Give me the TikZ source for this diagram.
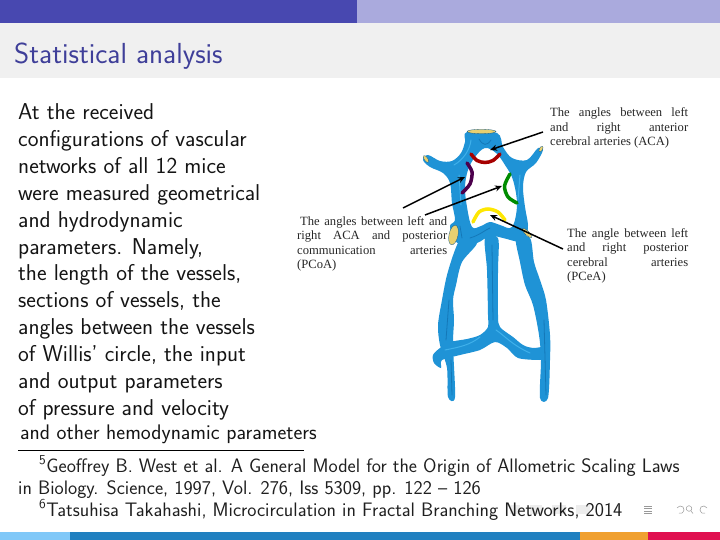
\documentclass[tikz,border=0pt]{standalone}
\usepackage{fontspec}
\setmainfont{Liberation Serif}
\setsansfont{Latin Modern Sans}
\usetikzlibrary{arrows.meta}
\definecolor{beamblue}{HTML}{4848B0}
\definecolor{beamlite}{HTML}{AAAADD}
\definecolor{titlebg}{HTML}{F0F0F0}
\definecolor{titlefg}{HTML}{3F3F99}
\definecolor{vessel}{HTML}{1F93D6}
\definecolor{vesseldk}{HTML}{1478B8}
\definecolor{vesselhi}{HTML}{3FB0EA}
\definecolor{capyel}{HTML}{E8D070}
\definecolor{foota}{HTML}{80C8F8}
\definecolor{footb}{HTML}{2080C0}
\definecolor{footc}{HTML}{F0A030}
\definecolor{footd}{HTML}{E01050}
\newcommand{\jl}[2]{\makebox[#1pt][s]{#2}}
\tikzset{
  band/.style={fill=#1,draw=none},
  bodytext/.style={font=\sffamily\fontsize{22.9}{26.9}\selectfont,anchor=north west,align=left,inner sep=0pt,text=black!92},
  foot/.style={font=\sffamily\fontsize{19.5}{22}\selectfont,anchor=north west,align=left,inner sep=0pt,text=black!88},
  caption/.style={font=\rmfamily\fontsize{12.6}{14.6}\selectfont,anchor=north west,align=left,inner sep=0pt,text=black!85},
  pointer/.style={draw=black,line width=1.5pt,-{Stealth[length=7pt,width=6pt]}},
  arcmark/.style={line width=3.5pt,line cap=round},
  wall/.style={fill=vessel,draw=none},
  rim/.style={fill=capyel,draw=vesseldk!70!black,line width=0.3pt},
  shadeline/.style={draw=vesseldk,line width=0.8pt,line cap=round},
  gloss/.style={draw=vesselhi,line width=1pt,line cap=round},
  navi/.style={fill=black!7,draw=none},
  navl/.style={draw=black!40,line width=0.5pt}
}
\begin{document}
\begin{tikzpicture}[x=1pt,y=-1pt]
\useasboundingbox (0,0) rectangle (720,540);
% bands
\fill[band=beamblue] (0,0) rectangle (357,23);
\fill[band=beamlite] (357,0) rectangle (720,23);
\fill[band=titlebg] (0,23) rectangle (720,78);
\fill[band=foota] (0,531.5) rectangle (70,540);
\fill[band=footb] (70,531.5) rectangle (580,540);
\fill[band=footc] (580,531.5) rectangle (648,540);
\fill[band=footd] (648,531.5) rectangle (720,540);
% navigation symbols
\fill[navi] (510,505) rectangle (520,514);
\fill[navi] (530,505) rectangle (542,514);
\fill[navi] (552,505) rectangle (566,514);
\fill[navi] (576,505) rectangle (590,514);
\draw[navl] (644,506) -- (652,506) (644,508.5) -- (652,508.5) (644,511) -- (652,511) (644,513.5) -- (652,513.5);
\draw[navl] plot[smooth] coordinates {(677,508)(680,506)(683,507)(684,510)(682,513)(679,513)};
\draw[navl] (689,508.5) circle (2.8) (691,511) -- (693,513.5);
\draw[navl] plot[smooth] coordinates {(707,508)(704,506)(701,507)(700,510)(702,513)(705,513)};
% title
\node[anchor=west,inner sep=0pt,text=titlefg,font=\sffamily\fontsize{29}{32}\selectfont] (title) at (14,56) {Statistical analysis};
% body
\node[bodytext] (body) at (18,103.5) {At the received\\configurations of vascular\\networks of all 12 mice\\were measured geometrical\\and hydrodynamic\\parameters. Namely,\\the length of the vessels,\\sections of vessels, the\\angles between the vessels\\of Willis' circle, the input\\and output parameters\\of pressure and velocity};
\node[anchor=west,inner sep=0pt,text=black!92,font=\sffamily\fontsize{21.1}{24}\selectfont] (bodylast) at (20,434.5) {and other hemodynamic parameters};
% footnotes
\coordinate (ruleA) at (18,450);
\coordinate (ruleB) at (304,450);
\draw[black,line width=0.6pt] (ruleA) -- (ruleB);
\node[foot] (foots) at (18,455.5) {\hspace*{21pt}\textsuperscript{5}Geoffrey B. West et al. A General Model for the Origin of Allometric Scaling Laws\\in Biology. Science, 1997, Vol. 276, Iss 5309, pp. 122 -- 126\\\hspace*{21pt}\textsuperscript{6}Tatsuhisa Takahashi, Microcirculation in Fractal Branching Networks, 2014};
% vessels: lower
\fill[wall] plot[smooth cycle,tension=0.5] coordinates {(462,238)(477,243)(462,262)(456,285)(453,300)(454,320)(453,345)(455,397)(448,397)(447,368)(440,345)(438,325)(442,300)(447,275)(455,250)};
\fill[wall] plot[smooth cycle,tension=0.5] coordinates {(485,238)(498,238)(498,270)(498,315)(500,327)(513,337)(523,345)(533,348)(548,347)(549,358)(540,360)(518,358)(507,348)(495,342)(480,350)(460,355)(442,360)(441,368)(434,363)(433,355)(440,348)(450,342)(467,339)(480,335)(488,327)(488,315)(487,270)};
\fill[wall] plot[smooth cycle,tension=0.5] coordinates {(516,238)(530,238)(534,262)(540,280)(546,300)(550,335)(550,360)(548,398)(540,398)(541,360)(539,335)(533,305)(525,285)(520,262)};
% vessels: upper ring with hole
\fill[wall,even odd rule] plot[smooth cycle,tension=0.55] coordinates {(467,132)(465,142)(461,153)(452,161)(440,161)(428,155)(423,160)(430,167)(443,173)(450,183)(452,203)(455,220)(450,226)(454,240)(462,244)(477,243)(490,236)(503,238)(520,242)(526,236)(528,225)(525,207)(523,187)(526,172)(536,163)(543,150)(538,148)(527,160)(512,158)(503,147)(497,133)}
  plot[smooth cycle,tension=0.6] coordinates {(485,148)(475,157)(468,170)(465,187)(467,207)(472,227)(481,226)(490,222)(500,225)(512,227)(517,205)(513,180)(505,165)(496,153)};
% shading details
\draw[shadeline] (479,139) .. controls (483,146) and (487,146) .. (491,140);
\draw[gloss] (471,140) .. controls (470,150) and (463,160) .. (454,165);
\draw[gloss] (459,175) -- (461,205);
\draw[gloss] (520,175) -- (518,200);
\draw[shadeline] (460,226) -- (462,238);
\draw[shadeline] (470,238) .. controls (480,235) and (485,230) .. (490,228);
\draw[shadeline] (492,245) -- (493,320);
\draw[gloss] (496,330) .. controls (505,336) and (512,345) .. (530,353);
\draw[gloss] (445,350) .. controls (460,347) and (470,345) .. (480,337);
\draw[shadeline] (449,300) -- (446,340);
\draw[shadeline] (544,320) -- (546,395);
\draw[shadeline] (451,360) -- (452,395);
% rims
\fill[rim] (481.5,131.5) ellipse [x radius=14.5,y radius=2.2];
\fill[rim,rotate around={35:(426,159)}] (426,159) ellipse [x radius=1.8,y radius=4];
\fill[rim,rotate around={-30:(541,149)}] (541,149) ellipse [x radius=1.6,y radius=3];
\fill[rim,rotate around={-12:(453.5,235)}] (453.5,235) ellipse [x radius=4.5,y radius=10];
\fill[rim,rotate around={45:(527,233)}] (527,233) ellipse [x radius=2,y radius=6.5];
% angle marks
\draw[arcmark,draw=red!65!black] plot[smooth] coordinates {(471,154)(477,160.5)(485,162.5)(493,160.5)(500,154)};
\draw[arcmark,draw=violet!60!black] plot[smooth] coordinates {(467,163)(472,172)(470,184)(462,193)};
\draw[arcmark,draw=green!55!black] plot[smooth] coordinates {(510,174)(504.5,186)(508,197)(517,203)};
\draw[arcmark,draw=yellow!90!orange] plot[smooth] coordinates {(473,222)(479,212)(488,209)(498,212)(505,220)};
% captions
\node[caption] (capA) at (550,107.5) {\jl{138}{The angles between left}\\\jl{138}{and right anterior}\\cerebral arteries (ACA)};
\node[caption] (capB) at (297,216) {\hspace*{3pt}\jl{147}{The angles between left and}\\\jl{150}{right ACA and posterior}\\\jl{150}{communication arteries}\\(PCoA)};
\node[caption] (capC) at (567,228) {\jl{121}{The angle between left}\\\jl{121}{and right posterior}\\\jl{121}{cerebral arteries}\\(PCeA)};
% arrows
\coordinate (aS) at (543,132); \coordinate (aE) at (490,150);
\coordinate (bS) at (403,208); \coordinate (bE) at (465,177);
\coordinate (cS) at (425,215); \coordinate (cE) at (502,186);
\coordinate (dS) at (563,249); \coordinate (dE) at (490,215);
\draw[pointer] (aS) -- (aE);
\draw[pointer] (bS) -- (bE);
\draw[pointer] (cS) -- (cE);
\draw[pointer] (dS) -- (dE);
\end{tikzpicture}
\end{document}
